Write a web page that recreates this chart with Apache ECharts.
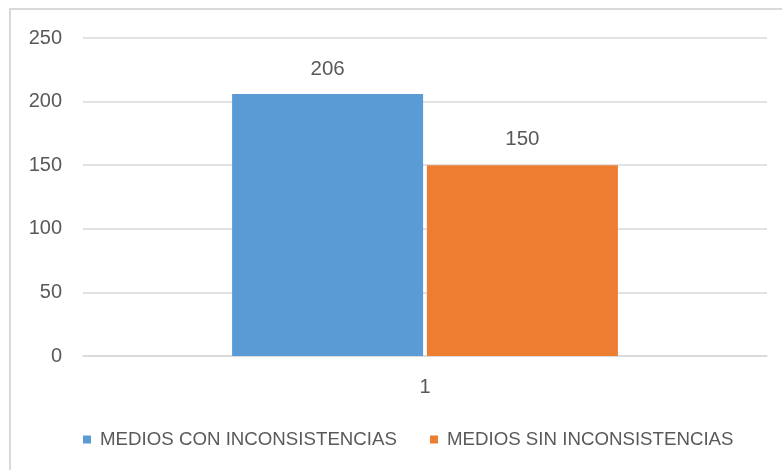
<!DOCTYPE html>
<html><head><meta charset="utf-8">
<script src="https://cdn.jsdelivr.net/npm/echarts@6/dist/echarts.min.js"></script>
<style>html,body{margin:0;padding:0;background:#fff}#c{width:782px;height:470px}</style>
</head><body><div id="c"></div>
<script>
const categories = ['1'];
const seriesNames = ['MEDIOS CON INCONSISTENCIAS', 'MEDIOS SIN INCONSISTENCIAS'];
const conValues = [206];
const sinValues = [150];
const colors = ['#5B9BD5', '#ED7D31'];
const FONT = 'Liberation Sans';
const TXT = '#595959';
const chart = echarts.init(document.getElementById('c'), null, {renderer: 'canvas'});
chart.setOption({
  animation: false,
  backgroundColor: '#fff',
  textStyle: {fontFamily: FONT},
  graphic: [{type: 'rect', shape: {x: 10, y: 9, width: 800, height: 500}, style: {fill: 'none', stroke: '#d9d9d9', lineWidth: 2}, silent: true}],
  grid: {left: 83, right: 15, top: 38, bottom: 114},
  legend: {
    left: 78, top: 425, itemWidth: 8, itemHeight: 8, itemGap: 33, icon: 'rect',
    textStyle: {color: TXT, fontSize: 18.7, fontFamily: FONT, padding: [0, 0, 0, 4]},
    data: seriesNames
  },
  xAxis: {
    type: 'category', data: categories,
    axisLine: {lineStyle: {color: '#d9d9d9', width: 1.5}},
    axisTick: {show: false},
    axisLabel: {color: TXT, fontSize: 20, margin: 21, fontFamily: FONT}
  },
  yAxis: {
    type: 'value', min: 0, max: 250, interval: 50,
    axisLine: {show: false}, axisTick: {show: false},
    splitLine: {lineStyle: {color: '#d9d9d9', width: 1.5}},
    axisLabel: {color: TXT, fontSize: 20, margin: 21, fontFamily: FONT}
  },
  series: [
    {name: seriesNames[0], type: 'bar', data: conValues, barWidth: 191, barGap: '2%',
     itemStyle: {color: colors[0]},
     label: {show: true, position: 'top', distance: 14, color: TXT, fontSize: 20.5, fontFamily: FONT}},
    {name: seriesNames[1], type: 'bar', data: sinValues, barWidth: 191, barGap: '2%',
     itemStyle: {color: colors[1]},
     label: {show: true, position: 'top', distance: 15, color: TXT, fontSize: 20.5, fontFamily: FONT}}
  ]
});
</script></body></html>
